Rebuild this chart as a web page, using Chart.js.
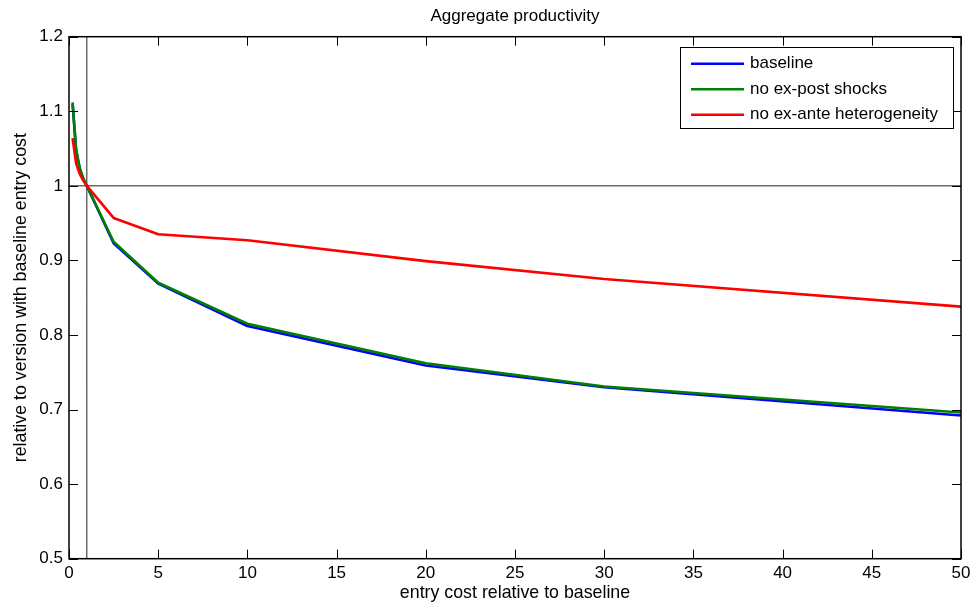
<!DOCTYPE html>
<html>
<head>
<meta charset="utf-8">
<title>Aggregate productivity</title>
<script src="https://cdn.jsdelivr.net/npm/chart.js@4.4.1/dist/chart.umd.min.js"></script>
<style>
	html, body { margin: 0; padding: 0; background: #fff; }
	#wrap { width: 974px; height: 609px; }
</style>
</head>
<body>
<div id="wrap"><canvas id="prodChart" width="974" height="609"></canvas></div>
<script>
// entry cost relative to baseline
const entryCost = [0.2, 0.4, 0.6, 0.8, 1, 2.5, 5, 10, 20, 30, 50];

// productivity relative to baseline entry cost
const baseline      = [1.110, 1.047, 1.023, 1.009, 1.0, 0.923, 0.869, 0.812, 0.759, 0.730, 0.692];
const noExPost      = [1.112, 1.049, 1.024, 1.010, 1.0, 0.925, 0.870, 0.815, 0.762, 0.731, 0.696];
const noExAnte      = [1.064, 1.030, 1.016, 1.007, 1.0, 0.957, 0.935, 0.927, 0.899, 0.875, 0.838];

const seriesNames = ['baseline', 'no ex-post shocks', 'no ex-ante heterogeneity'];
const chartTitle = 'Aggregate productivity';

// tick labels
const xTicks = [0, 5, 10, 15, 20, 25, 30, 35, 40, 45, 50];
const yTicks = [0.5, 0.6, 0.7, 0.8, 0.9, 1, 1.1, 1.2];

// reference lines (x = 1, y = 1)
const refX = 1;
const refY = 1;

const FONT = '"Liberation Sans", Arial, Helvetica, sans-serif';
Chart.defaults.color = '#000';
Chart.defaults.font.family = FONT;

let toPoints = (ys) => entryCost.map((x, i) => ({x: x, y: ys[i]}));

/**
 * 제목 - 축 영역 가운데 정렬
 */
const axesTitle = {
	id: 'axesTitle',
	afterDraw(chart) {
		const {ctx, chartArea: a} = chart;
		ctx.save();
		ctx.font = '17px ' + FONT;
		ctx.fillStyle = '#000';
		ctx.textAlign = 'center';
		ctx.textBaseline = 'middle';
		ctx.fillText(chartTitle, (a.left + a.right) / 2, 16.7);
		ctx.restore();
	}
};

/**
 * matlab 스타일 프레임 + 안쪽 눈금
 */
const boxTicks = {
	id: 'boxTicks',
	afterDatasetsDraw(chart) {
		const {ctx, chartArea: a, scales} = chart;
		const tl = 9;
		ctx.save();
		ctx.strokeStyle = '#000';
		ctx.lineWidth = 1;
		ctx.beginPath();
		scales.x.ticks.forEach(t => {
			const px = Math.round(scales.x.getPixelForValue(t.value)) + 0.5;
			ctx.moveTo(px, a.bottom); ctx.lineTo(px, a.bottom - tl);
			ctx.moveTo(px, a.top); ctx.lineTo(px, a.top + tl);
		});
		scales.y.ticks.forEach(t => {
			const py = Math.round(scales.y.getPixelForValue(t.value)) + 0.5;
			ctx.moveTo(a.left, py); ctx.lineTo(a.left + tl, py);
			ctx.moveTo(a.right, py); ctx.lineTo(a.right - tl, py);
		});
		ctx.stroke();
		ctx.lineWidth = 1.5;
		ctx.strokeRect(a.left, a.top, a.right - a.left, a.bottom - a.top);
		ctx.restore();
	}
};

/**
 * 박스 범례 (차트 안 오른쪽 위)
 */
const boxLegend = {
	id: 'boxLegend',
	afterDraw(chart) {
		const {ctx, chartArea: a} = chart;
		const items = chart.data.datasets.filter(d => !d.isRef);
		const boxW = 273, rowH = 25.5, boxH = 81;
		const bx = a.right - 8 - boxW, by = a.top + 10.5;
		ctx.save();
		ctx.fillStyle = '#fff';
		ctx.fillRect(bx, by, boxW, boxH);
		ctx.strokeStyle = '#000';
		ctx.lineWidth = 1;
		ctx.strokeRect(Math.round(bx) + 0.5, Math.round(by) + 0.5, boxW, boxH);
		ctx.font = '17px ' + FONT;
		ctx.textBaseline = 'middle';
		ctx.fillStyle = '#000';
		items.forEach((d, i) => {
			const y = by + 16.5 + i * rowH;
			ctx.strokeStyle = d.borderColor;
			ctx.lineWidth = 2.5;
			ctx.beginPath();
			ctx.moveTo(bx + 11, y); ctx.lineTo(bx + 64, y);
			ctx.stroke();
			ctx.fillText(d.label, bx + 70, y);
		});
		ctx.restore();
	}
};

let lineSet = (label, ys, color, order) => ({
	label: label,
	data: toPoints(ys),
	borderColor: color,
	backgroundColor: color,
	borderWidth: 2.6,
	borderJoinStyle: 'round',
	pointRadius: 0,
	tension: 0,
	order: order
});

const refSet = (pts) => ({
	isRef: true,
	data: pts,
	borderColor: '#222',
	borderWidth: 1,
	pointRadius: 0,
	order: 10
});

const prodChart = new Chart(document.getElementById('prodChart'), {
	type: 'line',
	data: {
		datasets: [
			lineSet(seriesNames[0], baseline, '#0000ff', 3),
			lineSet(seriesNames[1], noExPost, '#008000', 2),
			lineSet(seriesNames[2], noExAnte, '#ff0000', 1),
			refSet([{x: xTicks[0], y: refY}, {x: xTicks[xTicks.length - 1], y: refY}]),
			refSet([{x: refX, y: yTicks[0]}, {x: refX, y: yTicks[yTicks.length - 1]}])
		]
	},
	options: {
		responsive: false,
		maintainAspectRatio: false,
		animation: false,
		events: [],
		layout: { padding: { left: 0, right: 13, top: 36.7, bottom: 0 } },
		plugins: {
			legend: { display: false },
			tooltip: { enabled: false },
			title: { display: false }
		},
		scales: {
			x: {
				type: 'linear',
				min: 0,
				max: 50,
				afterBuildTicks: (s) => { s.ticks = xTicks.map(v => ({value: v})); },
				afterFit: (s) => { s.height = 50.3; s.paddingLeft = 0; s.paddingRight = 0; },
				ticks: { padding: 4, maxRotation: 0, autoSkip: false, font: { size: 17 }, color: '#000' },
				grid: { display: false, drawTicks: false },
				border: { display: false },
				title: {
					display: true,
					text: 'entry cost relative to baseline',
					color: '#000',
					font: { size: 17.8 },
					padding: { top: 0, bottom: 5.3 }
				}
			},
			y: {
				type: 'linear',
				min: 0.5,
				max: 1.2,
				afterBuildTicks: (s) => { s.ticks = yTicks.map(v => ({value: v})); },
				afterFit: (s) => { s.width = 69; s.paddingTop = 0; s.paddingBottom = 0; },
				ticks: {
					padding: 6,
					autoSkip: false,
					font: { size: 17 },
					color: '#000',
					callback: (v) => String(v)
				},
				grid: { display: false, drawTicks: false },
				border: { display: false },
				title: {
					display: true,
					text: 'relative to version with baseline entry cost',
					color: '#000',
					font: { size: 17.8 },
					padding: { top: 10.2, bottom: 0 }
				}
			}
		}
	},
	plugins: [boxTicks, boxLegend, axesTitle]
});
</script>
</body>
</html>
